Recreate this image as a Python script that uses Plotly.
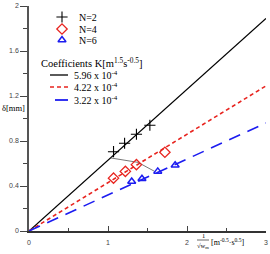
import plotly.graph_objects as go

# Data
n2_x = [1.07, 1.21, 1.36, 1.53]
n2_y = [0.705, 0.78, 0.86, 0.94]
n4_x = [1.07, 1.22, 1.36, 1.72]
n4_y = [0.47, 0.53, 0.59, 0.70]
n6_x = [1.30, 1.43, 1.63, 1.85]
n6_y = [0.44, 0.465, 0.53, 0.585]
line_x = [0, 3]
k596_y = [0, 1.89]
k422_y = [0, 1.29]
k322_y = [0, 0.96]
conn_x = [1.03, 1.38, 1.59]
conn_y = [0.65, 0.61, 0.53]
yticks = [0, 0.4, 0.8, 1.2, 1.6, 2]
yticklabels = ["0", "0.4", "0.8", "1.2", "1.6", "2"]
xticks = [0, 1, 2, 3]
series_labels = ["N=2", "N=4", "N=6"]
coef_labels = ["5.96 x 10<sup>-4</sup>", "4.22 x 10<sup>-4</sup>", "3.22 x 10<sup>-4</sup>"]

W, H = 270, 254
L, R, T, B = 29, 266, 6, 231

def px(x):
    return (x - L) / (R - L)

def py(y):
    return (B - y) / (B - T)

RED = "#e8241f"
BLUE = "#1c1cf0"
serif = "Liberation Serif"

cross = dict(symbol="cross-thin", size=8, line=dict(color="black", width=1.1))
diam = dict(symbol="diamond-open", size=8, color=RED, line=dict(color=RED, width=1.3))
tri = dict(symbol="triangle-up-open", size=7, color=BLUE, line=dict(color=BLUE, width=1.5))
l_black = dict(color="black", width=1.3)
l_red = dict(color=RED, width=1.6, dash="4px,3px")
l_blue = dict(color=BLUE, width=1.6, dash="12px,8px")

fig = go.Figure()
fig.add_trace(go.Scatter(x=line_x, y=k596_y, mode="lines", line=l_black, name=coef_labels[0]))
fig.add_trace(go.Scatter(x=line_x, y=k422_y, mode="lines", line=l_red, name=coef_labels[1]))
fig.add_trace(go.Scatter(x=line_x, y=k322_y, mode="lines", line=l_blue, name=coef_labels[2]))
fig.add_trace(go.Scatter(x=conn_x, y=conn_y, mode="lines", line=dict(color="#555555", width=0.8)))
fig.add_trace(go.Scatter(x=n2_x, y=n2_y, mode="markers", name=series_labels[0], marker=cross))
fig.add_trace(go.Scatter(x=n4_x, y=n4_y, mode="markers", name=series_labels[1], marker=diam))
fig.add_trace(go.Scatter(x=n6_x, y=n6_y, mode="markers", name=series_labels[2], marker=tri))

# Legend glyphs drawn on an overlay axis in pixel units
lg_rows = [17, 29, 40]
for yy, mk in zip(lg_rows, [cross, diam, tri]):
    fig.add_trace(go.Scatter(x=[62], y=[yy], mode="markers", marker=mk, xaxis="x2", yaxis="y2",
                             cliponaxis=False))
ln_rows = [75, 87, 100]
for yy, ln, x0 in zip(ln_rows, [l_black, l_red, dict(color=BLUE, width=1.8)], [50, 50, 55]):
    fig.add_trace(go.Scatter(x=[x0, 68], y=[yy, yy], mode="lines", line=ln, xaxis="x2", yaxis="y2",
                             cliponaxis=False))

for yy, t in zip(lg_rows, series_labels):
    fig.add_annotation(x=77, y=yy, xref="x2", yref="y2", xanchor="left", yanchor="middle", text=t,
                       showarrow=False, font=dict(family=serif, size=10, color="black"))
for yy, t in zip(ln_rows, coef_labels):
    fig.add_annotation(x=72, y=yy, xref="x2", yref="y2", xanchor="left", yanchor="middle", text=t,
                       showarrow=False, font=dict(family=serif, size=10, color="black"))
fig.add_annotation(x=39, y=62, xref="x2", yref="y2", xanchor="left", yanchor="middle",
                   text="Coefficients K[m<sup>1.5</sup>s<sup>-0.5</sup>]", showarrow=False,
                   font=dict(family=serif, size=10.5, color="black"))

# labels outside the plot area, in paper units
fig.add_annotation(x=px(0), y=py(108), xref="paper", yref="paper", xanchor="left", yanchor="middle",
                   text="δ[mm]", showarrow=False, font=dict(family=serif, size=8.5, color="black"))
fig.add_annotation(x=px(203), y=py(235.5), xref="paper", yref="paper", xanchor="center", yanchor="middle",
                   text="1", showarrow=False, font=dict(family=serif, size=6.5, color="black"))
fig.add_shape(type="line", xref="paper", yref="paper", x0=px(197), x1=px(209), y0=py(240), y1=py(240),
              line=dict(color="black", width=0.6))
fig.add_annotation(x=px(203), y=py(245.5), xref="paper", yref="paper", xanchor="center", yanchor="middle",
                   text="√w<sub>m</sub>", showarrow=False, font=dict(family=serif, size=6.5, color="black"))
fig.add_annotation(x=px(209), y=py(241.5), xref="paper", yref="paper", xanchor="left", yanchor="middle",
                   text="[m<sup>-0.5</sup>·s<sup>0.5</sup>]", showarrow=False,
                   font=dict(family=serif, size=8, color="black"))

tickfont = dict(family="Arial, Liberation Sans", size=7, color="#444")
fig.update_layout(
    width=W, height=H,
    margin=dict(l=L, r=W - R, t=T, b=H - B, autoexpand=False),
    plot_bgcolor="white", paper_bgcolor="white", showlegend=False,
    xaxis=dict(range=[0, 3], tickvals=xticks, ticks="inside", ticklen=5, tickwidth=1, tickcolor="#444",
               minor=dict(dtick=0.5, ticks="inside", ticklen=3, tickcolor="#444"),
               showline=True, linecolor="#333", linewidth=1.5, showgrid=False, zeroline=False,
               tickfont=tickfont, ticklabelstandoff=4),
    yaxis=dict(range=[0, 2], tickvals=yticks, ticktext=yticklabels, ticks="outside", ticklen=7, tickwidth=1,
               tickcolor="#444",
               minor=dict(tickvals=[0.2, 0.6, 1.0, 1.4, 1.8], ticks="outside", ticklen=4, tickcolor="#444"),
               showline=True, linecolor="#555", linewidth=1.5, showgrid=False, zeroline=False,
               tickfont=tickfont),
    xaxis2=dict(overlaying="x", range=[L, R], visible=False, fixedrange=True),
    yaxis2=dict(overlaying="y", range=[B, T], visible=False, fixedrange=True),
)

fig.write_html("out.html")
